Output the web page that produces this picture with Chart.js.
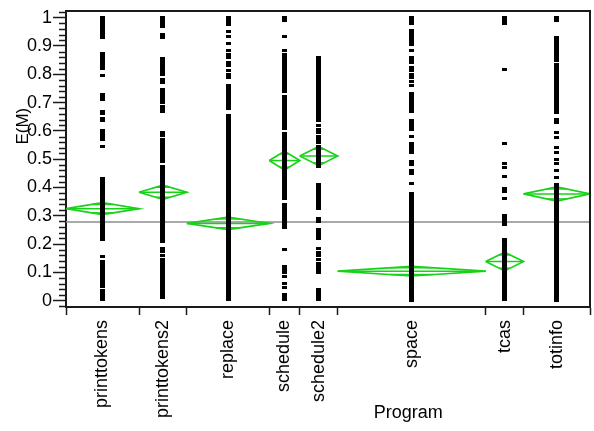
<!DOCTYPE html>
<html>
<head>
<meta charset="utf-8">
<script src="https://cdn.jsdelivr.net/npm/chart.js@4.4.1/dist/chart.umd.min.js"></script>
<style>
  html, body { margin: 0; padding: 0; background: #fff; }
  #wrap { width: 594px; height: 431px; position: relative; }
</style>
</head>
<body>
<div id="wrap"><canvas id="chart"></canvas></div>
<script>
// Programs on the x axis, left to right
const programs = ['printtokens', 'printtokens2', 'replace', 'schedule', 'schedule2', 'space', 'tcas', 'totinfo'];
// Relative group sizes (each group's share of the x axis)
const groupWeights = [73.3, 48.0, 82.7, 30.7, 38.0, 148.6, 38.0, 66.7];
// Group means of E(M) and half-widths of their 95% confidence intervals
const groupMeans = [0.325, 0.383, 0.273, 0.495, 0.511, 0.104, 0.138, 0.377];
const ciHalf = [0.021, 0.025, 0.022, 0.033, 0.034, 0.017, 0.033, 0.025];
const grandMean = 0.278;
// Labelled y ticks
const yTickValues = [0, 0.1, 0.2, 0.3, 0.4, 0.5, 0.6, 0.7, 0.8, 0.9, 1];
const yMinorStep = 0.02;

// E(M) observations per program
const valsPrinttokens = [1.0, 0.995, 0.99, 0.985, 0.98, 0.975, 0.97, 0.965, 0.96, 0.955, 0.95, 0.945, 0.94, 0.935, 0.93,
  0.875, 0.865, 0.855, 0.845, 0.84, 0.835, 0.83, 0.82, 0.797, 0.73, 0.72, 0.71, 0.67, 0.66, 0.645, 0.635,
  0.60, 0.595, 0.585, 0.575, 0.57, 0.545,
  0.43, 0.425, 0.415, 0.41, 0.40, 0.395, 0.39, 0.38, 0.375, 0.37, 0.36, 0.355, 0.35, 0.345, 0.34, 0.335, 0.33,
  0.32, 0.31, 0.305, 0.295, 0.285, 0.28, 0.27, 0.265, 0.26, 0.25, 0.245, 0.24, 0.23, 0.22, 0.215,
  0.155, 0.14, 0.13, 0.125, 0.12, 0.115, 0.11, 0.105, 0.10, 0.095, 0.09, 0.085, 0.08, 0.07, 0.06, 0.05,
  0.035, 0.03, 0.02, 0.01, 0.005];
const valsPrinttokens2 = [1.0, 0.995, 0.99, 0.985, 0.98, 0.975, 0.97, 0.94, 0.93,
  0.855, 0.85, 0.84, 0.83, 0.82, 0.81, 0.80, 0.78, 0.77,
  0.745, 0.74, 0.73, 0.725, 0.715, 0.71, 0.70, 0.685, 0.675, 0.67,
  0.595, 0.585, 0.57, 0.56, 0.55, 0.54, 0.53, 0.52, 0.51, 0.50, 0.49, 0.475, 0.465, 0.455,
  0.445, 0.44, 0.43, 0.425, 0.42, 0.41, 0.40, 0.395, 0.39, 0.38, 0.37, 0.365, 0.36, 0.35, 0.34, 0.335, 0.33,
  0.32, 0.31, 0.30, 0.29, 0.285, 0.28, 0.27, 0.26, 0.25, 0.245, 0.24, 0.23, 0.22, 0.21,
  0.185, 0.175, 0.16, 0.145, 0.14, 0.13, 0.12, 0.11, 0.10, 0.09, 0.085, 0.08, 0.07, 0.06, 0.05, 0.045,
  0.04, 0.03, 0.02, 0.01];
const valsReplace = [1.0, 0.995, 0.99, 0.985, 0.975, 0.95, 0.935, 0.91, 0.885, 0.87, 0.86, 0.84, 0.83, 0.815, 0.80, 0.79,
  0.76, 0.75, 0.74, 0.73, 0.72, 0.71, 0.70, 0.69, 0.68,
  0.655, 0.645, 0.635, 0.625, 0.615, 0.605, 0.595, 0.585, 0.575, 0.565, 0.555, 0.545, 0.535, 0.525, 0.515,
  0.505, 0.495, 0.485, 0.475, 0.465, 0.455, 0.445, 0.435, 0.425, 0.415, 0.405, 0.395, 0.385, 0.375, 0.365,
  0.355, 0.345, 0.335, 0.325, 0.315, 0.305, 0.295, 0.285, 0.275, 0.265, 0.255, 0.245, 0.235, 0.225, 0.215,
  0.205, 0.195, 0.185, 0.175, 0.165, 0.155, 0.145, 0.135, 0.125, 0.115, 0.105, 0.095, 0.085, 0.075, 0.065,
  0.055, 0.045, 0.035, 0.025, 0.015, 0.005];
const valsSchedule = [1.0, 0.995, 0.99, 0.935, 0.885,
  0.87, 0.86, 0.85, 0.84, 0.83, 0.82, 0.81, 0.80, 0.79, 0.78, 0.77, 0.76, 0.75, 0.74, 0.72, 0.71, 0.70,
  0.69, 0.68, 0.67, 0.66, 0.65, 0.64, 0.63, 0.62, 0.61, 0.59, 0.58, 0.57, 0.56, 0.55, 0.54, 0.53, 0.52,
  0.51, 0.50, 0.49, 0.48, 0.47, 0.46, 0.45, 0.44, 0.43, 0.42, 0.41, 0.40, 0.39, 0.38, 0.37, 0.36, 0.34,
  0.33, 0.32, 0.31, 0.30, 0.29, 0.28, 0.27, 0.26,
  0.18, 0.12, 0.11, 0.10, 0.085, 0.06, 0.045, 0.02, 0.01, 0.005];
const valsSchedule2 = [0.86, 0.85, 0.84, 0.83, 0.82, 0.81, 0.80, 0.79, 0.78, 0.77, 0.76, 0.75, 0.74, 0.73, 0.72,
  0.71, 0.70, 0.69, 0.68, 0.67, 0.66, 0.65, 0.64, 0.635,
  0.62, 0.605, 0.595, 0.58, 0.57, 0.56,
  0.545, 0.535, 0.525, 0.515, 0.505, 0.495, 0.485, 0.475,
  0.41, 0.40, 0.39, 0.38, 0.37, 0.36, 0.35, 0.34, 0.33, 0.325,
  0.29, 0.28, 0.25, 0.24, 0.23, 0.22,
  0.185, 0.17, 0.16, 0.145, 0.13, 0.12, 0.11, 0.10,
  0.04, 0.03, 0.02, 0.01, 0.005];
const valsSpace = [1.0, 0.995, 0.99, 0.985, 0.98, 0.955, 0.945, 0.935, 0.925, 0.915, 0.905, 0.885,
  0.86, 0.85, 0.84, 0.825, 0.815, 0.80, 0.79, 0.775, 0.76, 0.733, 0.72, 0.71, 0.70, 0.69, 0.68, 0.67,
  0.635, 0.625, 0.615, 0.605, 0.58, 0.555, 0.545, 0.535, 0.525, 0.49, 0.48, 0.46, 0.45, 0.415,
  0.38, 0.37, 0.36, 0.35, 0.34, 0.33, 0.32, 0.31, 0.30, 0.29, 0.28, 0.27, 0.26, 0.25, 0.24, 0.23,
  0.22, 0.21, 0.20, 0.19, 0.18, 0.17, 0.16, 0.15, 0.14, 0.13, 0.12, 0.11, 0.10, 0.09, 0.08, 0.07,
  0.06, 0.05, 0.04, 0.03, 0.02, 0.01, 0.0];
const valsTcas = [1.0, 0.995, 0.985, 0.98, 0.818, 0.555, 0.485, 0.47, 0.44, 0.395, 0.385, 0.36,
  0.30, 0.295, 0.285, 0.275, 0.27,
  0.215, 0.205, 0.195, 0.185, 0.175, 0.165, 0.155, 0.145, 0.135, 0.125, 0.115, 0.105, 0.095,
  0.085, 0.075, 0.065, 0.055, 0.045, 0.035, 0.025, 0.015, 0.005];
const valsTotinfo = [1.0, 0.99, 0.93, 0.92, 0.91, 0.90, 0.89, 0.88, 0.87, 0.86, 0.85, 0.835, 0.825, 0.815,
  0.805, 0.795, 0.785, 0.775, 0.765, 0.755, 0.745, 0.735, 0.725, 0.715, 0.705, 0.695, 0.685, 0.675, 0.665,
  0.64, 0.63, 0.595, 0.575, 0.54, 0.525, 0.50, 0.485, 0.46, 0.435,
  0.41, 0.40, 0.39, 0.38, 0.37, 0.36, 0.35, 0.34, 0.33, 0.32, 0.31, 0.30, 0.29, 0.28, 0.27, 0.26,
  0.25, 0.24, 0.23, 0.22, 0.21, 0.20, 0.19, 0.18, 0.17, 0.16, 0.15, 0.14, 0.13, 0.12, 0.11, 0.10,
  0.09, 0.08, 0.07, 0.06, 0.05, 0.04, 0.03, 0.02, 0.01, 0.0];

const seriesByProgram = [valsPrinttokens, valsPrinttokens2, valsReplace, valsSchedule,
  valsSchedule2, valsSpace, valsTcas, valsTotinfo];

// ---- derived layout in data units ----
const bounds = [0];
groupWeights.forEach(w => bounds.push(bounds[bounds.length - 1] + w));
const centers = groupWeights.map((w, i) => bounds[i] + w / 2);
const xMax = bounds[bounds.length - 1];

const FONT = "'Liberation Sans', Arial, Helvetica, sans-serif";
const INK = '#1a1a1a';
const GREEN = 'rgb(24, 210, 24)';

// small 5x3 square marker
const marker = document.createElement('canvas');
marker.width = 5; marker.height = 3;
const mctx = marker.getContext('2d');
mctx.fillStyle = '#000';
mctx.fillRect(0, 0, 5, 3);

const pointData = [];
seriesByProgram.forEach((vals, i) => vals.forEach(v => pointData.push({ x: centers[i], y: v })));

function segment(points, color, width) {
  return {
    type: 'scatter', data: points, showLine: true, fill: false,
    borderColor: color, borderWidth: width, pointRadius: 0, tension: 0
  };
}

const datasets = [];
datasets.push({
  type: 'scatter', data: pointData, pointStyle: marker, pointRadius: 2,
  backgroundColor: '#000', borderWidth: 0
});

// means diamonds with mean line and overlap marks
const k = Math.SQRT1_2;
programs.forEach((p, i) => {
  const l = bounds[i], r = bounds[i + 1], c = centers[i];
  const m = groupMeans[i], h = ciHalf[i];
  const hw = (r - l) / 2 * (1 - k);
  datasets.push(segment([{ x: l, y: m }, { x: c, y: m + h }, { x: r, y: m }, { x: c, y: m - h }, { x: l, y: m }], GREEN, 1.7));
  datasets.push(segment([{ x: l, y: m }, { x: r, y: m }], GREEN, 1.5));
  datasets.push(segment([{ x: c - hw, y: m + h * k }, { x: c + hw, y: m + h * k }], GREEN, 1.5));
  datasets.push(segment([{ x: c - hw, y: m - h * k }, { x: c + hw, y: m - h * k }], GREEN, 1.5));
});

// overall mean reference line
datasets.push(segment([{ x: 0, y: grandMean }, { x: xMax, y: grandMean }], '#8c8c8c', 1.6));

const framePlugin = {
  id: 'frame',
  afterDraw(chart) {
    const { ctx, chartArea: a, scales } = chart;
    ctx.save();
    ctx.strokeStyle = INK;
    ctx.lineWidth = 2;
    ctx.beginPath();
    ctx.moveTo(a.left, a.top); ctx.lineTo(a.right, a.top); ctx.lineTo(a.right, a.bottom);
    ctx.stroke();
    // minor ticks on the y axis
    const y = scales.y;
    ctx.lineWidth = 1.5;
    const first = Math.ceil(y.min / yMinorStep - 1e-9);
    const last = Math.floor(y.max / yMinorStep + 1e-9);
    ctx.beginPath();
    for (let n = first; n <= last; n++) {
      if (n % 5 === 0) continue;
      const py = Math.round(y.getPixelForValue(n * yMinorStep)) + 0.5;
      ctx.moveTo(a.left - 7, py); ctx.lineTo(a.left, py);
    }
    ctx.stroke();
    // axis titles
    ctx.fillStyle = '#000';
    ctx.font = '18px ' + FONT;
    ctx.textAlign = 'center';
    ctx.textBaseline = 'alphabetic';
    ctx.fillText('Program', a.left + (a.right - a.left) * 0.653, 418);
    ctx.translate(28, a.top + (a.bottom - a.top) * 0.389);
    ctx.rotate(-Math.PI / 2);
    ctx.font = '17px ' + FONT;
    ctx.fillText('E(M)', 0, 0);
    ctx.restore();
  }
};

new Chart(document.getElementById('chart'), {
  type: 'scatter',
  data: { datasets },
  options: {
    responsive: true,
    maintainAspectRatio: false,
    animation: false,
    layout: { padding: { top: 11, right: 2, bottom: 0, left: 0 } },
    plugins: { legend: { display: false }, tooltip: { enabled: false } },
    scales: {
      x: {
        type: 'linear', min: 0, max: xMax,
        afterBuildTicks: s => {
          const t = [];
          bounds.forEach((b, i) => {
            t.push({ value: b });
            if (i < centers.length) t.push({ value: centers[i] });
          });
          s.ticks = t;
        },
        afterFit: s => { s.height = 124; s.paddingLeft = 0; s.paddingRight = 0; },
        ticks: {
          autoSkip: false, minRotation: 90, maxRotation: 90, padding: 5, color: '#000',
          font: { family: FONT, size: 18 },
          callback: (v, i) => (i % 2 ? programs[(i - 1) / 2] : '')
        },
        grid: {
          drawOnChartArea: false, tickLength: 8, tickWidth: 1.5,
          tickColor: c => (c.index % 2 ? 'rgba(0,0,0,0)' : INK)
        },
        border: { display: true, color: INK, width: 2 }
      },
      y: {
        type: 'linear', min: -0.0225, max: 1.0235,
        afterBuildTicks: s => { s.ticks = yTickValues.map(v => ({ value: v })); },
        afterFit: s => { s.width = 66; s.paddingTop = 0; s.paddingBottom = 0; },
        ticks: {
          padding: 1, color: '#000', font: { family: FONT, size: 18 },
          callback: v => String(+Number(v).toFixed(1))
        },
        grid: { drawOnChartArea: false, tickLength: 13, tickWidth: 1.5, tickColor: INK },
        border: { display: true, color: INK, width: 2 }
      }
    }
  },
  plugins: [framePlugin]
});
</script>
</body>
</html>
